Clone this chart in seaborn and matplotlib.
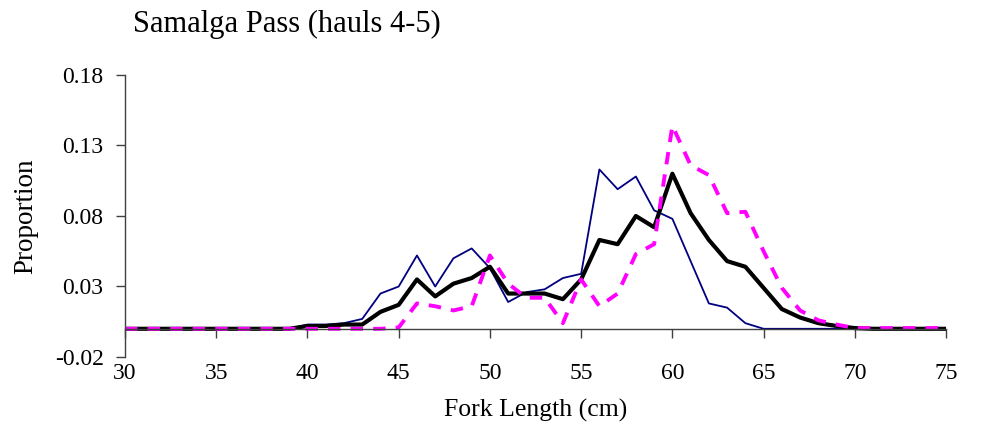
import matplotlib
matplotlib.use("Agg")
import matplotlib.pyplot as plt
import seaborn as sns
import pandas as pd

# Fork length classes (cm)
fork_length = list(range(30, 76))

# Proportion at length: haul 4, haul 5 and the two hauls combined
haul_4 = [0, 0, 0, 0, 0, 0, 0, 0, 0, 0,
          0.003, 0.003, 0.004, 0.007, 0.025, 0.030, 0.052, 0.030, 0.050, 0.057,
          0.043, 0.019, 0.026, 0.028, 0.036, 0.039, 0.113, 0.099, 0.108, 0.084,
          0.078, 0.048, 0.018, 0.015, 0.004, 0, 0, 0, 0, 0,
          0, 0, 0, 0, 0, 0]
haul_5 = [0, 0, 0, 0, 0, 0, 0, 0, 0, 0,
          0, 0, 0, 0, 0, 0.001, 0.018, 0.016, 0.013, 0.016,
          0.052, 0.032, 0.022, 0.022, 0.004, 0.035, 0.016, 0.025, 0.053, 0.060,
          0.144, 0.116, 0.109, 0.082, 0.083, 0.055, 0.029, 0.013, 0.006, 0.003,
          0.0005, 0.0005, 0.0005, 0.0005, 0.0005, 0.0005]
combined = [0, 0, 0, 0, 0, 0, 0, 0, 0, 0,
            0.002, 0.002, 0.003, 0.003, 0.012, 0.017, 0.035, 0.023, 0.032, 0.036,
            0.044, 0.025, 0.025, 0.025, 0.021, 0.035, 0.063, 0.060, 0.080, 0.072,
            0.110, 0.082, 0.063, 0.048, 0.044, 0.029, 0.014, 0.008, 0.004, 0.002,
            0.0005, 0, 0, 0, 0, 0]

x_ticks = [30, 35, 40, 45, 50, 55, 60, 65, 70, 75]
y_ticks = [-0.02, 0.03, 0.08, 0.13, 0.18]
y_tick_labels = ["-0.02", "0.03", "0.08", "0.13", "0.18"]

df = pd.DataFrame({"length": fork_length, "h4": haul_4, "h5": haul_5, "all": combined})

sns.set_style("white")
plt.rcParams["font.family"] = ["Liberation Serif", "DejaVu Serif"]
plt.rcParams["text.color"] = "black"
plt.rcParams["axes.labelcolor"] = "black"
plt.rcParams["xtick.labelcolor"] = "black"
plt.rcParams["ytick.labelcolor"] = "black"

fig = plt.figure(figsize=(9.83, 4.36), dpi=100)
ax = fig.add_axes([0.1272, 0.1812, 0.8352, 0.6468])

sns.lineplot(data=df, x="length", y="h4", color="#000080", linewidth=1.3, ax=ax)
sns.lineplot(data=df, x="length", y="all", color="black", linewidth=3.0, ax=ax)
sns.lineplot(data=df, x="length", y="h5", color="#FF00FF", linewidth=2.8,
             linestyle=(0, (3.2, 2.6)), ax=ax)

ax.set_xlim(30, 75)
ax.set_ylim(-0.02, 0.18)
ax.set_xticks(x_ticks)
ax.set_yticks(y_ticks)
ax.set_yticklabels(y_tick_labels)

for side in ("top", "right"):
    ax.spines[side].set_visible(False)
ax.spines["left"].set_color("#404040")
ax.spines["left"].set_linewidth(1.0)
ax.spines["bottom"].set_position(("data", 0))
ax.spines["bottom"].set_color("#404040")
ax.spines["bottom"].set_linewidth(1.0)

ax.tick_params(axis="x", direction="out", length=6.5, width=1.0, color="#404040",
               labelcolor="black", labelsize=17, pad=18)
ax.tick_params(axis="y", direction="out", length=6.5, width=1.0, color="#404040",
               labelcolor="black", labelsize=17, pad=9)
ax.xaxis.set_ticks_position("bottom")
ax.yaxis.set_ticks_position("left")

ax.set_xlabel("Fork Length (cm)", fontsize=18.5, labelpad=0, color="black")
ax.xaxis.set_label_coords(0.5, -0.148)
ax.set_ylabel("Proportion", fontsize=19.5, color="black")
ax.yaxis.set_label_coords(-0.106, 0.5)

fig.text(133 / 983, 1 - 24 / 436, "Samalga Pass (hauls 4-5)", fontsize=22,
         ha="left", va="center", color="black")

fig.savefig("out.png", dpi=100, facecolor="white")
